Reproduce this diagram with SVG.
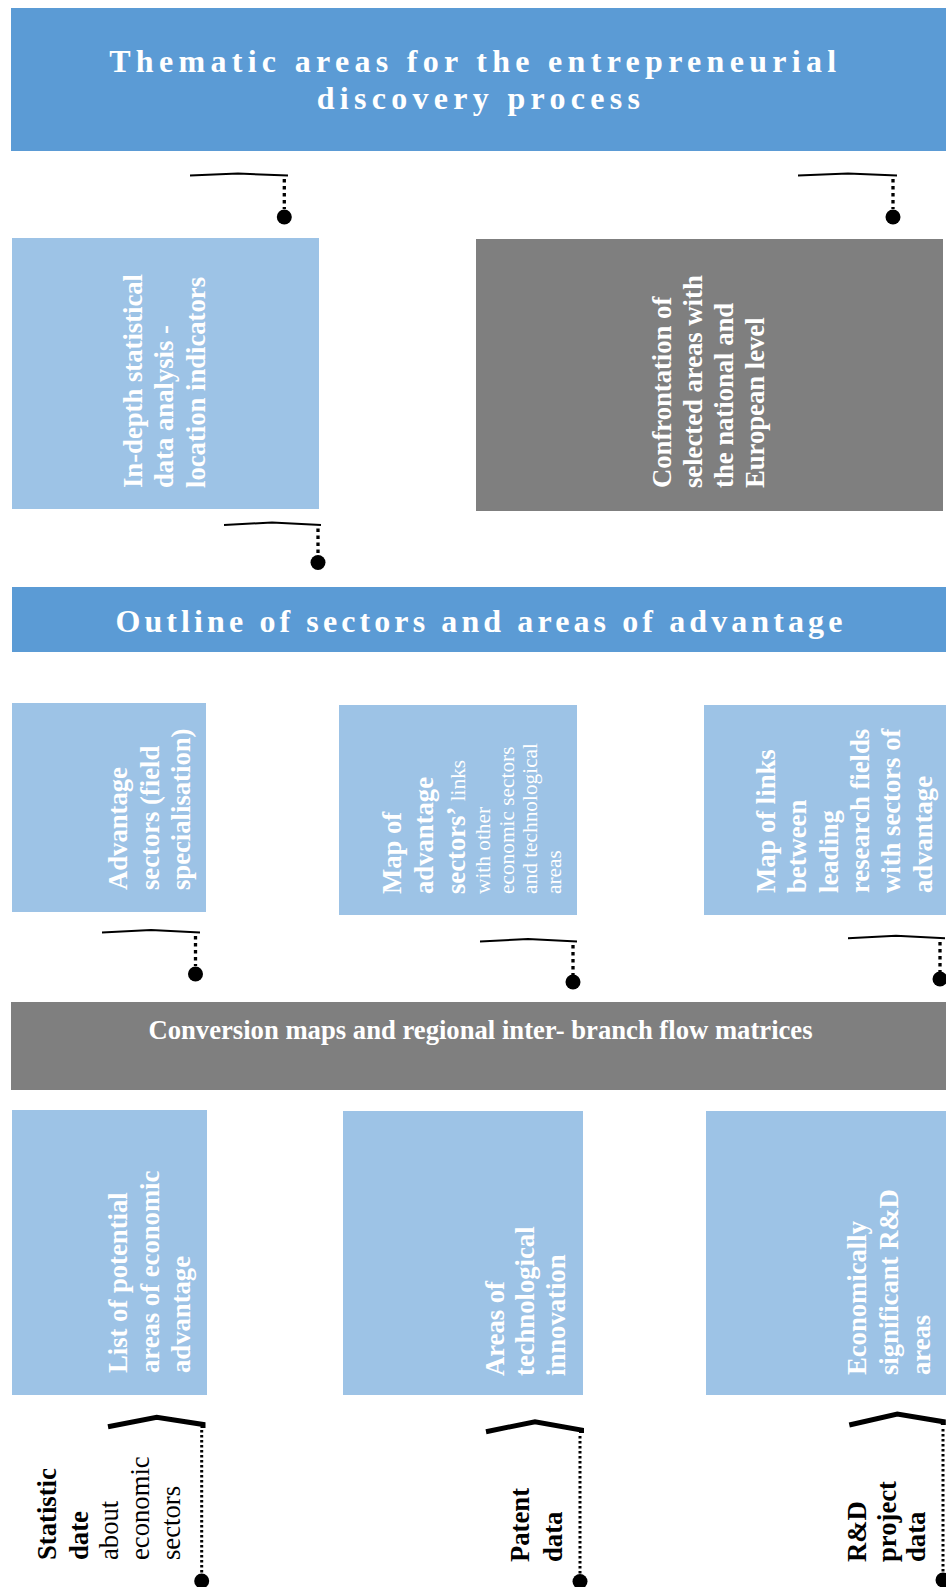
<svg xmlns="http://www.w3.org/2000/svg" width="946" height="1587" viewBox="0 0 946 1587">
  <style>
    .banner { fill: #5B9BD5; }
    .light { fill: #9DC3E6; }
    .dark { fill: #7F7F7F; }
    .t { font-family: "Liberation Serif", "Times New Roman", serif; fill: #FFFFFF; }
    .b { font-weight: bold; }
    .s26 { font-size: 26.67px; }
    .s21 { font-size: 21.33px; }
    .lbl { font-family: "Liberation Serif", "Times New Roman", serif; fill: #000000; font-size: 26.67px; }
    .brace { fill: none; stroke: #000000; stroke-width: 2; }
    .brace-heavy { fill: none; stroke: #000000; stroke-width: 5; }
    .lead { fill: none; stroke: #000000; stroke-width: 3.3; stroke-dasharray: 3.5 3.5; }
    .lead-fine { fill: none; stroke: #000000; stroke-width: 3; stroke-dasharray: 2.5 2.5; }
    .dot { fill: #000000; }
  </style>

  <!-- top banner -->
  <g id="thematic-areas">
    <rect class="banner" x="11" y="8" width="935" height="143"/>
    <text class="t b" font-size="32" letter-spacing="5.3" text-anchor="middle">
      <tspan x="482" y="72">Thematic areas for the entrepreneurial</tspan>
      <tspan x="481" y="109">discovery process</tspan>
    </text>
  </g>

  <!-- analysis row -->
  <g id="in-depth-analysis">
    <rect class="light" x="12" y="238" width="307" height="271"/>
    <text class="t b s26" transform="translate(141.5,488) rotate(-90)">
      <tspan x="0" y="0">In-depth statistical</tspan>
      <tspan x="0" dy="31.5">data analysis -</tspan>
      <tspan x="0" dy="31.5">location indicators</tspan>
    </text>
  </g>

  <g id="confrontation">
    <rect class="dark" x="476" y="239" width="467" height="272"/>
    <text class="t b s26" transform="translate(671,488) rotate(-90)">
      <tspan x="0" y="0">Confrontation of</tspan>
      <tspan x="0" dy="31">selected areas with</tspan>
      <tspan x="0" dy="31">the national and</tspan>
      <tspan x="0" dy="31">European level</tspan>
    </text>
  </g>

  <!-- middle banner -->
  <g id="outline">
    <rect class="banner" x="12" y="587" width="934" height="65"/>
    <text class="t b" font-size="32" letter-spacing="4.1" text-anchor="middle" x="481" y="632">Outline of sectors and areas of advantage</text>
  </g>

  <!-- advantage row -->
  <g id="advantage-sectors">
    <rect class="light" x="12" y="703" width="194" height="209"/>
    <text class="t b s26" transform="translate(127,890) rotate(-90)">
      <tspan x="0" y="0">Advantage</tspan>
      <tspan x="0" dy="31.5">sectors (field</tspan>
      <tspan x="0" dy="31.5">specialisation)</tspan>
    </text>
  </g>

  <g id="advantage-links-map">
    <rect class="light" x="339" y="705" width="238" height="210"/>
    <text class="t s26" transform="translate(401,894) rotate(-90)">
      <tspan class="b" x="0" y="0">Map of</tspan>
      <tspan class="b" x="0" dy="32">advantage</tspan>
      <tspan class="b" x="0" dy="32">sectors’</tspan><tspan class="s21"> links</tspan>
      <tspan class="s21" x="0" dy="25">with other</tspan>
      <tspan class="s21" x="0" dy="23.7">economic sectors</tspan>
      <tspan class="s21" x="0" dy="23.7">and technological</tspan>
      <tspan class="s21" x="0" dy="23.7">areas</tspan>
    </text>
  </g>

  <g id="research-links-map">
    <rect class="light" x="704" y="705" width="242" height="210"/>
    <text class="t b s26" transform="translate(775,893) rotate(-90)">
      <tspan x="0" y="0">Map of links</tspan>
      <tspan x="0" dy="31.3">between</tspan>
      <tspan x="0" dy="31.3">leading</tspan>
      <tspan x="0" dy="31.3">research fields</tspan>
      <tspan x="0" dy="31.3">with sectors of</tspan>
      <tspan x="0" dy="31.3">advantage</tspan>
    </text>
  </g>

  <!-- conversion banner -->
  <g id="conversion">
    <rect class="dark" x="11" y="1002" width="935" height="88"/>
    <text class="t b s26" text-anchor="middle" x="480.5" y="1039">Conversion maps and regional inter- branch flow matrices</text>
  </g>

  <!-- source areas row -->
  <g id="economic-advantage">
    <rect class="light" x="12" y="1110" width="195" height="285"/>
    <text class="t b s26" transform="translate(127,1373) rotate(-90)">
      <tspan x="0" y="0">List of potential</tspan>
      <tspan x="0" dy="31.5">areas of economic</tspan>
      <tspan x="0" dy="31.5">advantage</tspan>
    </text>
  </g>

  <g id="technological-innovation">
    <rect class="light" x="343" y="1111" width="240" height="284"/>
    <text class="t b s26" transform="translate(503.5,1376) rotate(-90)">
      <tspan x="0" y="0">Areas of</tspan>
      <tspan x="0" dy="30.7">technological</tspan>
      <tspan x="0" dy="30.7">innovation</tspan>
    </text>
  </g>

  <g id="rd-areas">
    <rect class="light" x="706" y="1111" width="240" height="284"/>
    <text class="t b s26" transform="translate(866,1375) rotate(-90)">
      <tspan x="0" y="0">Economically</tspan>
      <tspan x="0" dy="32">significant R&amp;D</tspan>
      <tspan x="0" dy="32">areas</tspan>
    </text>
  </g>

  <!-- data sources -->
  <g id="statistic-data">
    <text class="lbl" transform="translate(56,1560) rotate(-90)">
      <tspan font-weight="bold" x="0" y="0">Statistic</tspan>
      <tspan font-weight="bold" x="0" dy="31.5">date</tspan>
      <tspan x="0" dy="30.5">about</tspan>
      <tspan x="0" dy="31">economic</tspan>
      <tspan x="0" dy="31">sectors</tspan>
    </text>
  </g>

  <g id="patent-data">
    <text class="lbl" font-weight="bold" transform="translate(529,1562) rotate(-90)">
      <tspan x="0" y="0">Patent</tspan>
      <tspan x="0" dy="33">data</tspan>
    </text>
  </g>

  <g id="rd-project-data">
    <text class="lbl" font-weight="bold" transform="translate(866,1562) rotate(-90)">
      <tspan x="0" y="0">R&amp;D</tspan>
      <tspan x="0" dy="29.5">project</tspan>
      <tspan x="0" dy="29.5">data</tspan>
    </text>
  </g>

  <!-- braces with dotted leaders -->
  <g id="connectors">
    <path class="brace" d="M190,175.5 L238,173.5 L288,175.5"/>
    <path class="lead" d="M284.3,179 V209"/>
    <circle class="dot" cx="284.3" cy="217" r="7.5"/>

    <path class="brace" d="M798,175.5 L848,173.5 L897,175.5"/>
    <path class="lead" d="M893,179 V209"/>
    <circle class="dot" cx="893" cy="217" r="7.5"/>

    <path class="brace" d="M224,525 L272,522.5 L321,525"/>
    <path class="lead" d="M318,528.5 V555"/>
    <circle class="dot" cx="318" cy="562.5" r="7.5"/>

    <path class="brace" d="M102,932.5 L151,930 L200,932.5"/>
    <path class="lead" d="M195.5,936 V966"/>
    <circle class="dot" cx="195.5" cy="974" r="7.5"/>

    <path class="brace" d="M480,941.5 L528,939 L577,941.5"/>
    <path class="lead" d="M573,945 V975"/>
    <circle class="dot" cx="573" cy="982" r="7.5"/>

    <path class="brace" d="M848,938.3 L896,935.7 L945,938.3"/>
    <path class="lead" d="M940,942 V972"/>
    <circle class="dot" cx="940" cy="979" r="7.5"/>

    <path class="brace-heavy" d="M108,1426.7 L156.7,1417.3 L203,1424.5 L203,1428"/>
    <path class="lead-fine" d="M201.7,1430 V1575"/>
    <circle class="dot" cx="201.7" cy="1581" r="7.5"/>

    <path class="brace-heavy" d="M486,1431.7 L535,1421.7 L581.5,1430 L581.5,1433"/>
    <path class="lead-fine" d="M580,1436 V1575"/>
    <circle class="dot" cx="580" cy="1581.5" r="7.5"/>

    <path class="brace-heavy" d="M849.3,1425 L897.3,1414 L943.3,1421.7 L943.3,1425"/>
    <path class="lead-fine" d="M943,1429 V1575"/>
    <circle class="dot" cx="943" cy="1580" r="7.5"/>
  </g>
</svg>
